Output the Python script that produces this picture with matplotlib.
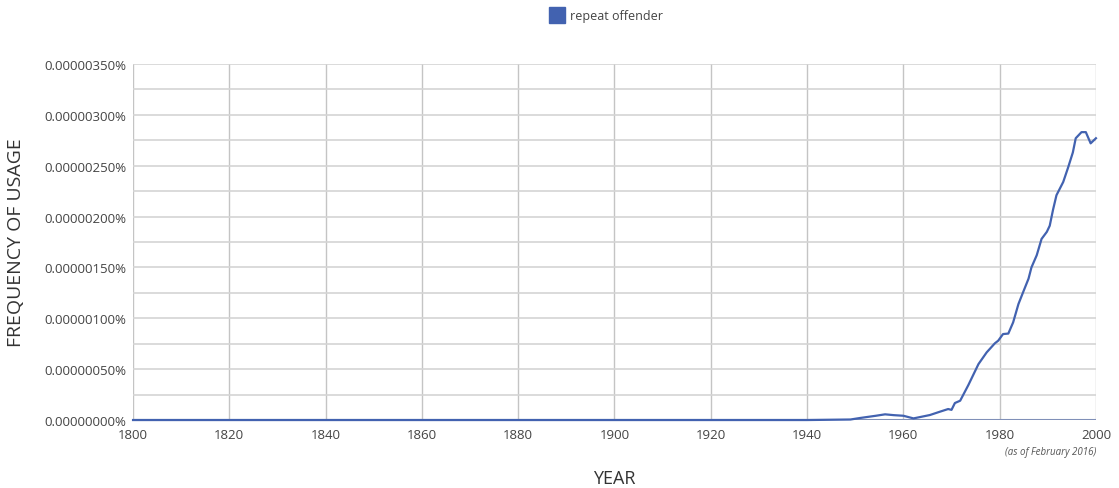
import numpy as np
import matplotlib.pyplot as plt
from matplotlib.ticker import MultipleLocator, FuncFormatter

# frequency of "repeat offender" (units of 1e-7 percent)
years = [1800, 1850, 1900, 1940, 1949, 1951, 1954.3, 1956.2, 1958, 1960, 1962.1,
         1965.5, 1967.6, 1969.3, 1970, 1970.7, 1971.8, 1973.5, 1975.6, 1977.3,
         1979.0, 1979.7, 1980.7, 1981.8, 1982.8, 1983.9, 1984.9, 1986.0, 1986.6,
         1987.7, 1988.7, 1989.8, 1990.4, 1991.1, 1991.8, 1993.2, 1994.2, 1995.2,
         1995.8, 1997.0, 1997.9, 1998.9, 2000]
freq_e7 = [0, 0, 0, 0, 0.05, 0.2, 0.42, 0.56, 0.48, 0.42, 0.16,
           0.49, 0.82, 1.08, 1.0, 1.67, 1.9, 3.44, 5.5, 6.65,
           7.54, 7.8, 8.45, 8.5, 9.6, 11.4, 12.6, 13.9, 15.0,
           16.2, 17.8, 18.5, 19.1, 20.7, 22.1, 23.4, 24.8, 26.3,
           27.7, 28.3, 28.3, 27.2, 27.7]
freq = np.array(freq_e7) * 1e-7

plt.rcParams['font.family'] = ['Open Sans', 'DejaVu Sans']

fig = plt.figure(figsize=(11.19, 4.89), dpi=100)
ax = fig.add_axes([0.1189, 0.139, 0.8605, 0.7281])

line_col = '#4262b0'
ax.plot(years, freq, '-', color=line_col, lw=1.6, zorder=3, clip_on=False)

ax.set_xlim(1800, 2000)
ax.set_ylim(0, 0.0000035)
ax.xaxis.set_major_locator(MultipleLocator(20))
ax.yaxis.set_major_locator(MultipleLocator(0.0000005))
ax.yaxis.set_minor_locator(MultipleLocator(0.00000025))
ax.yaxis.set_major_formatter(FuncFormatter(lambda v, p: f"{v:.8f}%"))

ax.grid(True, which='major', axis='x', color='#c4c4c4', lw=1.0)
ax.grid(True, which='both', axis='y', color='#d4d4d4', lw=1.2)
ax.set_axisbelow(True)
for s in ax.spines.values():
    s.set_visible(False)
ax.tick_params(axis='both', which='both', length=0, labelsize=9.5,
               labelcolor='#444444')
ax.tick_params(axis='y', pad=5)
ax.tick_params(axis='x', pad=6)
ax.axhline(0, color='#8090b8', lw=1.5, zorder=2)

ax.set_ylabel("FREQUENCY OF USAGE", fontsize=14, color='#333333', labelpad=14)
ax.set_xlabel("YEAR", fontsize=13, color='#333333', labelpad=20)

fig.text(0.9794, 0.0755, "(as of February 2016)", fontsize=7, style='italic',
         color='#555555', ha='right', va='center')

# legend at top
ax.plot([], [], 's', color=line_col, ms=11, label="repeat offender")
ax.legend(loc='center', bbox_to_anchor=(0.492, 1.135), frameon=False,
          fontsize=9, handlelength=1.0, handletextpad=0.5, labelcolor='#444444')

plt.savefig("out.png")
